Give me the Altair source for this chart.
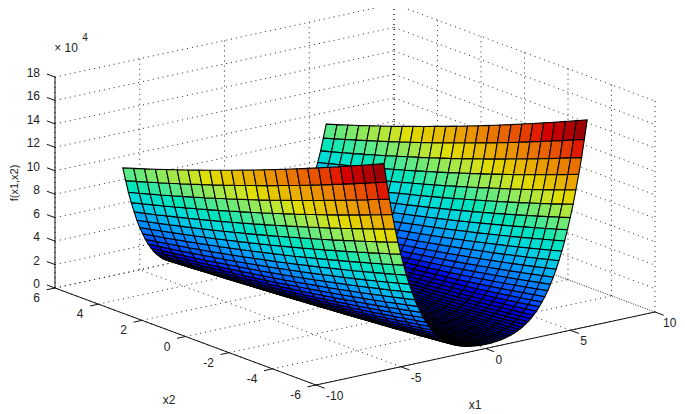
import altair as alt
import pandas as pd

# grid positions and heights (in units of 1e4); surface read as symmetric in x1
x1_half = [0,.17,.33,.5,.67,.83,1,1.17,1.33,1.5,1.67,1.83,2,2.17,2.33,2.5,2.67,2.83,3,3.17,3.33,3.5,3.67,3.83,4,4.17,4.33,4.5,4.67,4.83,5,5.17,5.33,5.5,5.67,5.83,6]
x2_grid = [-6,-5.5,-5,-4.5,-4,-3.5,-3,-2.5,-2,-1.5,-1,-.5,0,.5,1,1.5,2,2.5,3,3.5,4,4.5,5,5.5,6]
# heights at whole x2 values
z_whole = [
[.36,.25,.16,.09,.04,.01,0,.01,.04,.09,.16,.25,.36],
[.36,.25,.16,.09,.04,.01,0,.01,.04,.09,.16,.25,.36],
[.37,.26,.17,.10,.04,.01,0,.01,.04,.08,.15,.24,.35],
[.39,.28,.18,.11,.05,.02,0,.01,.03,.08,.14,.23,.33],
[.42,.30,.20,.12,.06,.02,0,0,.02,.07,.13,.21,.31],
[.45,.32,.22,.14,.07,.03,0,0,.02,.05,.11,.19,.28],
[.49,.36,.25,.16,.09,.04,.01,0,.01,.04,.09,.16,.25],
[.54,.40,.29,.19,.11,.06,.02,0,0,.03,.07,.13,.22],
[.61,.46,.33,.23,.14,.08,.03,.01,0,.01,.05,.10,.18],
[.68,.53,.39,.28,.18,.11,.05,.02,0,.01,.03,.08,.14],
[.77,.61,.46,.33,.23,.14,.08,.03,.01,0,.01,.05,.10],
[.88,.70,.54,.40,.29,.19,.11,.06,.02,0,0,.03,.07],
[1.00,.81,.64,.49,.36,.25,.16,.09,.04,.01,0,.01,.04],
[1.14,.94,.76,.59,.45,.32,.22,.14,.07,.03,0,0,.02],
[1.31,1.09,.89,.71,.55,.41,.30,.20,.12,.06,.02,0,0],
[1.50,1.27,1.05,.86,.68,.53,.39,.28,.18,.11,.05,.02,0],
[1.72,1.47,1.23,1.02,.83,.66,.51,.37,.26,.17,.10,.04,.01],
[1.97,1.70,1.45,1.22,1.01,.82,.64,.49,.36,.25,.16,.09,.04],
[2.25,1.96,1.69,1.44,1.21,1.00,.81,.64,.49,.36,.25,.16,.09],
[2.57,2.26,1.97,1.70,1.45,1.22,1.01,.82,.64,.49,.36,.25,.16],
[2.93,2.60,2.28,1.99,1.72,1.47,1.23,1.02,.83,.66,.51,.37,.26],
[3.33,2.98,2.64,2.33,2.03,1.76,1.50,1.27,1.05,.86,.68,.53,.39],
[3.78,3.40,3.04,2.70,2.38,2.09,1.81,1.55,1.31,1.09,.89,.71,.55],
[4.28,3.88,3.49,3.13,2.79,2.46,2.16,1.87,1.61,1.37,1.14,.94,.76],
[4.84,4.41,4.00,3.61,3.24,2.89,2.56,2.25,1.96,1.69,1.44,1.21,1.00],
[5.46,5.00,4.56,4.15,3.75,3.37,3.01,2.68,2.36,2.06,1.78,1.53,1.29],
[6.14,5.65,5.19,4.74,4.32,3.91,3.53,3.16,2.82,2.49,2.18,1.90,1.63],
[6.89,6.38,5.88,5.41,4.95,4.52,4.10,3.71,3.33,2.98,2.64,2.33,2.03],
[7.72,7.17,6.65,6.14,5.65,5.19,4.74,4.32,3.91,3.53,3.16,2.82,2.49],
[8.62,8.04,7.49,6.95,6.43,5.93,5.46,5.00,4.56,4.15,3.75,3.37,3.01],
[9.61,9.00,8.41,7.84,7.29,6.76,6.25,5.76,5.29,4.84,4.41,4.00,3.61],
[10.69,10.04,9.42,8.81,8.23,7.67,7.12,6.60,6.10,5.61,5.15,4.70,4.28],
[11.86,11.18,10.52,9.88,9.27,8.67,8.09,7.53,6.99,6.47,5.97,5.49,5.04],
[13.14,12.43,11.73,11.06,10.40,9.77,9.15,8.56,7.98,7.43,6.89,6.38,5.88],
[14.52,13.77,13.04,12.33,11.63,10.96,10.31,9.68,9.07,8.47,7.90,7.35,6.82],
[16.02,15.23,14.46,13.71,12.98,12.28,11.58,10.91,10.26,9.63,9.02,8.43,7.86],
[17.64,16.81,16.00,15.21,14.44,13.69,12.96,12.25,11.56,10.89,10.24,9.61,9.00],
]
# heights at half x2 values
z_mid = [
[.30,.20,.12,.06,.02,0,0,.02,.06,.12,.20,.30],
[.31,.21,.13,.06,.02,0,0,.02,.06,.12,.20,.30],
[.31,.21,.13,.07,.03,0,0,.02,.06,.11,.19,.29],
[.33,.23,.14,.08,.03,.01,0,.02,.05,.11,.18,.28],
[.35,.24,.16,.09,.04,.01,0,.01,.04,.09,.16,.26],
[.38,.27,.18,.10,.05,.01,0,.01,.03,.08,.15,.23],
[.42,.30,.20,.12,.06,.02,0,0,.02,.06,.12,.20],
[.47,.34,.24,.15,.08,.03,.01,0,.01,.05,.10,.17],
[.53,.39,.28,.18,.11,.05,.02,0,.01,.03,.07,.14],
[.60,.46,.33,.23,.14,.08,.03,.01,0,.02,.05,.11],
[.69,.53,.39,.28,.18,.11,.05,.02,0,.01,.03,.07],
[.78,.62,.47,.34,.24,.15,.08,.03,.01,0,.01,.05],
[.90,.72,.56,.42,.30,.20,.12,.06,.02,0,0,.02],
[1.04,.84,.67,.52,.38,.27,.18,.10,.05,.01,0,.01],
[1.20,.99,.80,.63,.48,.35,.24,.16,.09,.04,.01,0],
[1.38,1.16,.95,.77,.60,.46,.33,.23,.14,.08,.03,.01],
[1.59,1.35,1.13,.92,.74,.58,.44,.31,.21,.13,.07,.03],
[1.83,1.57,1.33,1.11,.91,.73,.57,.43,.31,.21,.12,.06],
[2.10,1.82,1.56,1.32,1.10,.90,.72,.56,.42,.30,.20,.12],
[2.41,2.11,1.83,1.57,1.33,1.11,.91,.73,.57,.43,.31,.21],
[2.76,2.44,2.13,1.85,1.59,1.35,1.13,.92,.74,.58,.44,.31],
[3.15,2.81,2.48,2.18,1.89,1.63,1.38,1.16,.95,.77,.60,.46],
[3.59,3.22,2.87,2.54,2.23,1.94,1.67,1.43,1.20,.99,.80,.63],
[4.08,3.68,3.31,2.95,2.62,2.31,2.01,1.74,1.49,1.25,1.04,.84],
[4.62,4.20,3.80,3.42,3.06,2.72,2.40,2.10,1.82,1.56,1.32,1.10],
[5.23,4.78,4.35,3.94,3.56,3.19,2.84,2.52,2.21,1.92,1.65,1.41],
[5.90,5.42,4.96,4.53,4.11,3.72,3.34,2.99,2.65,2.33,2.04,1.76],
[6.63,6.13,5.64,5.18,4.73,4.31,3.90,3.52,3.15,2.81,2.48,2.18],
[7.44,6.91,6.39,5.90,5.42,4.96,4.53,4.11,3.72,3.34,2.99,2.65],
[8.33,7.76,7.21,6.69,6.18,5.69,5.23,4.78,4.35,3.94,3.56,3.19],
[9.30,8.70,8.12,7.56,7.02,6.50,6.00,5.52,5.06,4.62,4.20,3.80],
[10.36,9.73,9.11,8.52,7.95,7.39,6.86,6.35,5.85,5.38,4.92,4.49],
[11.52,10.85,10.20,9.57,8.96,8.38,7.81,7.26,6.73,6.22,5.73,5.26],
[12.78,12.08,11.39,10.73,10.08,9.46,8.85,8.27,7.70,7.16,6.63,6.13],
[14.15,13.40,12.68,11.98,11.30,10.63,9.99,9.37,8.77,8.19,7.62,7.08],
[15.63,14.85,14.09,13.34,12.62,11.92,11.24,10.58,9.94,9.32,8.72,8.14],
[17.22,16.40,15.60,14.82,14.06,13.32,12.60,11.90,11.22,10.56,9.92,9.30],
]
x1_ticks = [-10,-5,0,5,10]
x2_ticks = [-6,-4,-2,0,2,4,6]
z_ticks = [0,2,4,6,8,10,12,14,16,18]

jet_stops = [0,1.95,6.35,10.8,15.2,17.64]
jet_colors = ["#00007a","#0000e0","#00dcdc","#e0e000","#e00000","#700000"]

z_half = []
for whole, mid in zip(z_whole, z_mid):
    row = []
    for n, v in enumerate(whole):
        row.append(v)
        if n < len(mid):
            row.append(mid[n])
    z_half.append(row)
x1_full = [-v for v in reversed(x1_half)] + x1_half[1:]
z_full = [r for r in reversed(z_half)] + z_half[1:]

def px(a, b):
    return 316 + (a + 10) * 339 / 20 - (b + 6) * 261 / 12

def py(a, b, z):
    return 385 - (a + 10) * 73 / 20 - (b + 6) * 97 / 12 - z * 211 / 18

W, H = 669, 404
xs = alt.Scale(domain=[8, 8 + W], nice=False, zero=False)
ys = alt.Scale(domain=[8 + H, 8], nice=False, zero=False)
X = alt.X("x:Q", scale=xs, axis=None)
Y = alt.Y("y:Q", scale=ys, axis=None)

# surface cells, far to near
rows = []
qid = 0
for i in range(len(x1_full) - 2, -1, -1):
    for j in range(len(x2_grid) - 2, -1, -1):
        corners = [(i, j), (i + 1, j), (i + 1, j + 1), (i, j + 1), (i, j)]
        mean = sum(z_full[p][q] for p, q in corners[:4]) / 4
        for v, (p, q) in enumerate(corners):
            rows.append({"x": round(px(x1_full[p], x2_grid[q]), 2), "y": round(py(x1_full[p], x2_grid[q], z_full[p][q]), 2),
                         "q": qid, "v": v, "c": round(mean, 3)})
        qid += 1
surface = alt.Chart(pd.DataFrame(rows)).mark_line(strokeWidth=1.1, clip=False).encode(
    x=X, y=Y, detail="q:N", order="v:Q",
    fill=alt.Fill("c:Q", legend=None, scale=alt.Scale(domain=jet_stops, range=jet_colors)),
    stroke=alt.value("#000000"),
)

def seg_rows(segs):
    out = []
    for n, (a, b) in enumerate(segs):
        out.append({"x": a[0], "y": a[1], "s": n, "v": 0})
        out.append({"x": b[0], "y": b[1], "s": n, "v": 1})
    return pd.DataFrame(out)

P = lambda a, b, z=0: (px(a, b), py(a, b, z))
grid = []
for a in x1_ticks:
    grid.append((P(a, -6), P(a, 6)))
    grid.append((P(a, 6), P(a, 6, 18)))
for b in x2_ticks:
    grid.append((P(-10, b), P(10, b)))
    grid.append((P(10, b), P(10, b, 18)))
for z in z_ticks:
    grid.append((P(-10, 6, z), P(10, 6, z)))
    grid.append((P(10, 6, z), P(10, -6, z)))
grid_layer = alt.Chart(seg_rows(grid)).mark_line(color="#111111", strokeWidth=0.9, strokeDash=[1, 4]).encode(
    x=X, y=Y, detail="s:N", order="v:Q")

axes = [(P(-10, 6), P(-10, 6, 18)), (P(-10, 6), P(-10, -6)), (P(-10, -6), P(10, -6))]
for a in x1_ticks:
    axes.append((P(a, -6), P(a, -6.4)))
for b in x2_ticks:
    axes.append((P(-10, b), P(-10.5, b)))
for z in z_ticks:
    axes.append((P(-10, 6, z), P(-10, 6.37, z)))
axes_layer = alt.Chart(seg_rows(axes)).mark_line(color="#111111", strokeWidth=1).encode(
    x=X, y=Y, detail="s:N", order="v:Q")

FONT = "Liberation Sans"
def labels(vals, pts, align, dx, dy):
    df = pd.DataFrame({"x": [p[0] for p in pts], "y": [p[1] for p in pts], "t": [str(v) for v in vals]})
    return alt.Chart(df).mark_text(font=FONT, fontSize=12, color="#222222", align=align, dx=dx, dy=dy).encode(
        x=X, y=Y, text="t:N")

l_x1 = labels(x1_ticks[:-1], [P(a, -6) for a in x1_ticks[:-1]], "left", 10, 11)
l_x1_end = labels(x1_ticks[-1:], [P(a, -6) for a in x1_ticks[-1:]], "left", 8, 11)
l_x2 = labels(x2_ticks, [P(-10, b) for b in x2_ticks], "right", -15, 10)
l_z = labels(z_ticks, [P(-10, 6, z) for z in z_ticks], "right", -15, -4)

def note(text, x, y, size=12, angle=0):
    return alt.Chart(pd.DataFrame({"x": [x], "y": [y], "t": [text]})).mark_text(
        font=FONT, fontSize=size, color="#222222", angle=angle).encode(x=X, y=Y, text="t:N")

chart = alt.layer(
    grid_layer, axes_layer, surface, l_x1, l_x1_end, l_x2, l_z,
    note("x1", 475, 405), note("x2", 169, 400),
    note("f(x1,x2)", 15, 183, 11, 270),
    note("× 10", 66, 48, 12), note("4", 85, 38, 10),
).properties(width=W, height=H, padding=0, autosize=alt.AutoSizeParams(type="none"),
             background="white").configure_view(stroke=None)

chart.save("out.html", embed_options={"renderer": "svg", "actions": False})
